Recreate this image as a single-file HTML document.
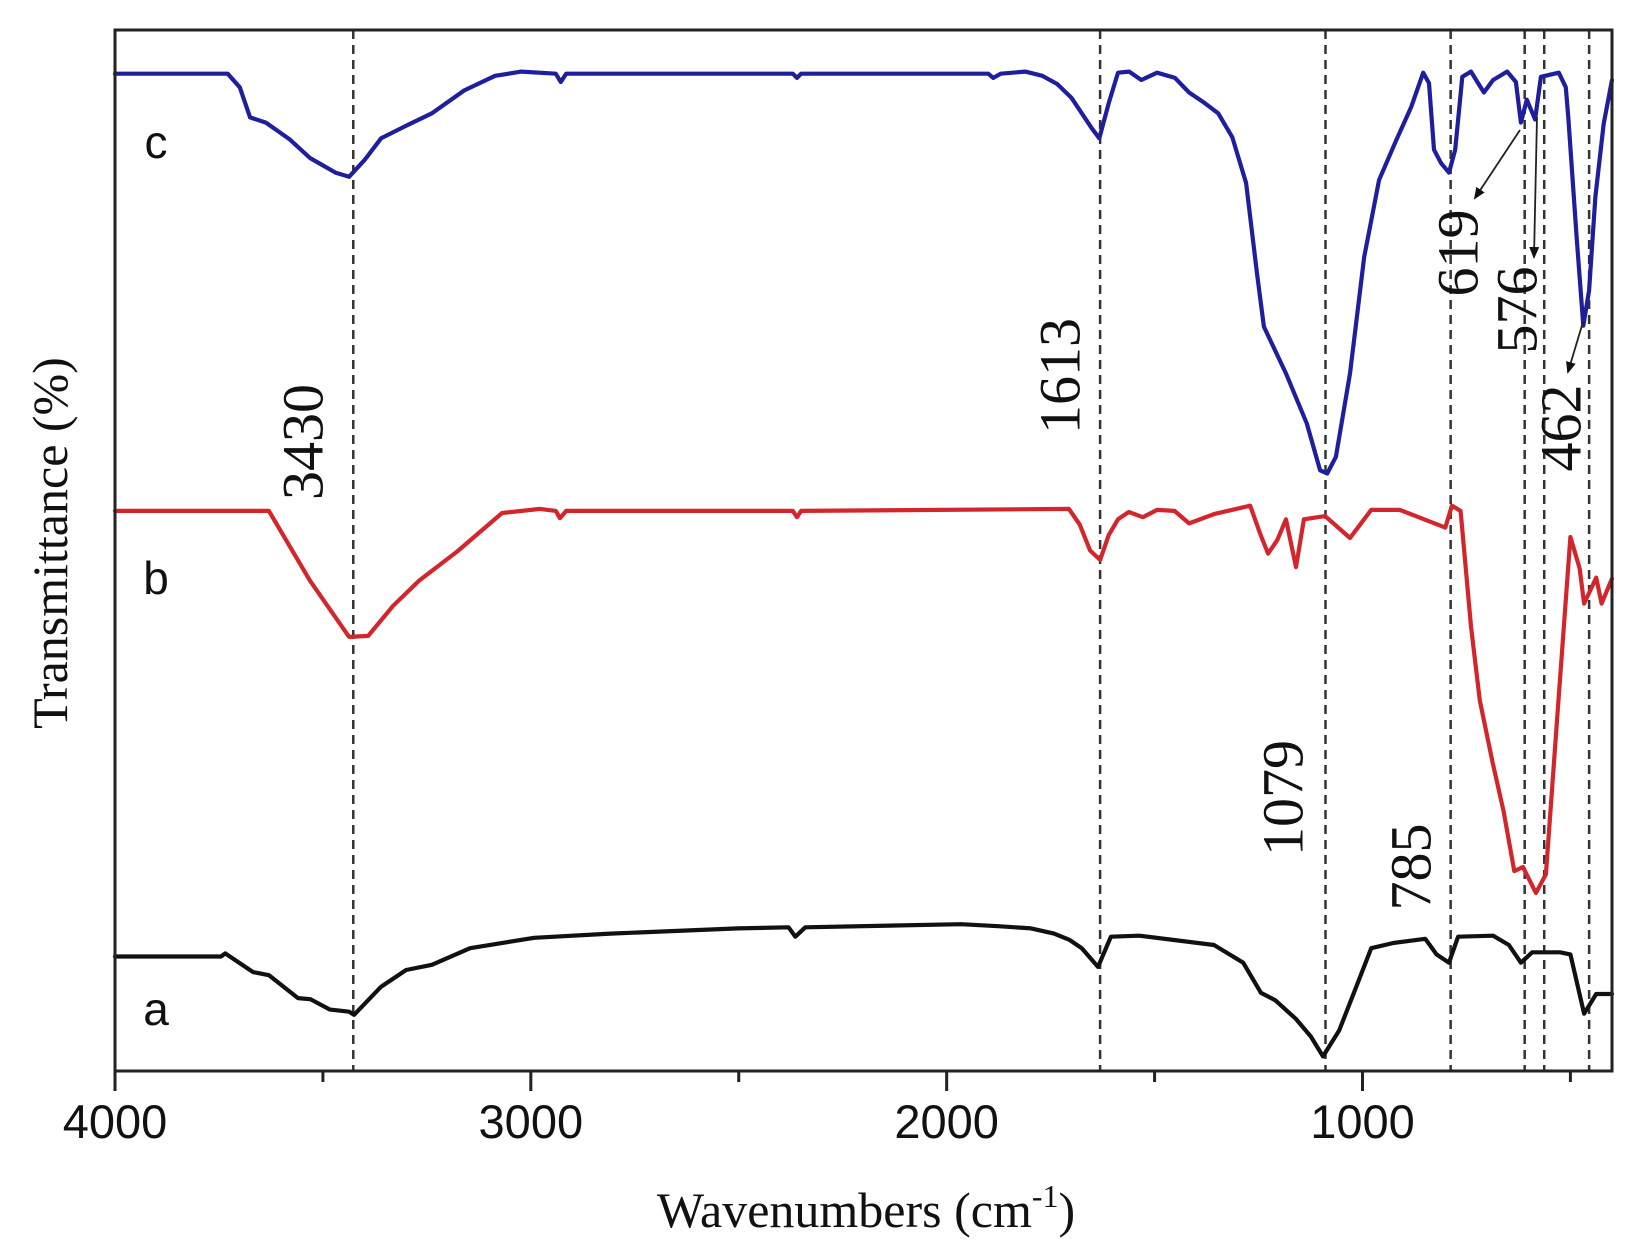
<!DOCTYPE html>
<html><head><meta charset="utf-8"><style>
html,body{margin:0;padding:0;background:#fff;}
svg{display:block;}
</style></head><body>
<svg id="chart" width="1637" height="1257" viewBox="0 0 1637 1257" xmlns="http://www.w3.org/2000/svg">
<defs>
<marker id="ah" markerWidth="12" markerHeight="10" refX="10" refY="5" orient="auto" markerUnits="userSpaceOnUse">
<path d="M0,0 L12,5 L0,10 Z" fill="#111"/>
</marker>
</defs>
<g id="plot"></g>
</svg>
<script>
// ---- data ----
const wnC = [4000,3729,3700,3675,3637,3580,3531,3470,3437,3400,3360,3300,3238,3160,3086,3023,2940,2928,2915,2370,2360,2350,1900,1888,1870,1811,1770,1734,1700,1675,1650,1633,1610,1588,1561,1532,1494,1451,1417,1380,1347,1313,1280,1254,1237,1184,1134,1102,1085,1064,1030,996,960,919,883,854,840,828,811,792,777,760,739,708,686,652,631,619,605,585,571,528,511,505,485,469,455,440,420,400];
const tC = [95.8,95.8,94.5,91.6,91.1,89.5,87.7,86.3,85.9,87.5,89.6,90.8,92.0,94.2,95.6,96.0,95.8,95.0,95.8,95.8,95.4,95.8,95.8,95.4,95.8,96.0,95.6,94.8,93.5,92.0,90.5,89.6,93.0,95.9,96.0,95.2,95.9,95.4,94.0,93.0,92.0,89.7,85.3,76.7,71.5,67.0,62.2,57.7,57.4,59.0,67.0,78.2,85.6,89.4,92.6,95.9,94.9,88.5,87.2,86.3,88.5,95.5,96.0,94.0,95.2,96.0,95.0,91.1,93.3,91.4,95.5,95.9,94.5,91.6,80,71.6,75,84,91,95.2];
const wnB = [4000,3630,3531,3437,3391,3331,3269,3177,3069,2978,2940,2930,2915,2370,2360,2350,1706,1680,1655,1631,1610,1588,1562,1528,1494,1452,1417,1357,1270,1245,1227,1205,1184,1160,1141,1090,1030,979,910,801,785,764,739,718,687,661,635,614,583,559,532,500,478,467,438,425,400];
const tB = [53.8,53.8,47.1,41.7,41.8,44.7,47.1,49.9,53.6,54.0,53.8,53.1,53.8,53.8,53.2,53.8,54.0,52.5,50.0,49.1,51.5,53.0,53.7,53.2,53.9,53.8,52.6,53.5,54.3,51.5,49.7,51.0,53.0,48.4,53.0,53.3,51.2,53.9,53.9,52.2,54.3,53.8,42.7,35.6,29.6,25.0,19.2,19.6,17.1,18.9,33.8,51.3,48.3,44.9,47.4,44.9,47.3];
const wnA = [4000,3745,3735,3668,3630,3560,3530,3483,3437,3425,3360,3300,3238,3146,2992,2809,2502,2380,2364,2340,1965,1871,1797,1742,1705,1675,1636,1605,1537,1357,1287,1244,1210,1160,1124,1095,1056,1013,979,926,849,822,792,770,686,648,619,592,525,500,467,438,400];
const tA = [11.0,11.0,11.3,9.5,9.2,7.0,6.9,5.9,5.7,5.4,8.1,9.7,10.2,11.8,12.8,13.2,13.7,13.8,12.9,13.8,14.1,13.9,13.7,13.2,12.6,11.8,10.0,12.9,13.0,12.1,10.4,7.5,6.8,5.0,3.3,1.4,3.9,8.3,11.8,12.3,12.7,11.2,10.4,12.9,13.0,12.1,10.4,11.4,11.4,11.2,5.5,7.4,7.4];
const peakLines = [3427,1631,1089,788,610,563,455];
const xTicksMajor = [4000,3000,2000,1000];
const xTicksMinor = [3500,2500,1500,500];
const peakLabels = ["3430","1613","1079","785","619","576","462"];

// ---- axes ----
const L=115,R=1612,T=30,B=1071;
const W0=4000,W1=400;
function xs(w){return L+(W0-w)*(R-L)/(W0-W1);}
function ys(v){return B-v*(B-T)/100;}

const NS="http://www.w3.org/2000/svg";
const g=document.getElementById('plot');
function mk(tag,attrs,parent){const e=document.createElementNS(NS,tag);for(const k in attrs)e.setAttribute(k,attrs[k]);(parent||g).appendChild(e);return e;}

// dashed peak lines
peakLines.forEach((w,i)=>{
  const l=mk('line',{x1:xs(w),x2:xs(w),y1:T,y2:B,stroke:'#333','stroke-width':2.5,'stroke-dasharray':'9 6'});
  
  
});

function series(wn,t,color,name){
  const pts=wn.map((w,i)=>xs(w).toFixed(1)+','+ys(t[i]).toFixed(1)).join(' ');
  const p=mk('polyline',{points:pts,fill:'none',stroke:color,'stroke-width':4.2,'stroke-linejoin':'round','stroke-linecap':'round'});
  
  
}
series(wnA,tA,'#111111','series-a');
series(wnB,tB,'#d3262c','series-b');
series(wnC,tC,'#1f1f9e','series-c');

// frame
const fr=mk('rect',{x:L,y:T,width:R-L,height:B-T,fill:'none',stroke:'#222','stroke-width':3});



// ticks
xTicksMajor.forEach(w=>{
  const t=mk('line',{x1:xs(w),x2:xs(w),y1:B,y2:B+20,stroke:'#222','stroke-width':3});
  
  
  const tx=mk('text',{x:xs(w),y:1138,'text-anchor':'middle','font-family':'Liberation Sans, sans-serif','font-size':47,fill:'#111'});
  tx.textContent=w;
  
  
});
xTicksMinor.forEach(w=>{
  if(w<W1)return;
  const t=mk('line',{x1:xs(w),x2:xs(w),y1:B,y2:B+11,stroke:'#222','stroke-width':3});
  
  
});

// rotated peak labels
const labelPos=[[303,442],[1060,376],[1283,798],[1411,867],[1458,253],[1517,310],[1561,428]];
peakLabels.forEach((s,i)=>{
  const [cx,cy]=labelPos[i];
  const tx=mk('text',{x:cx,y:cy,'text-anchor':'middle','dominant-baseline':'central','font-family':'Liberation Serif, serif','font-size':58,fill:'#111',transform:'rotate(-90 '+cx+' '+cy+')'});
  tx.textContent=s;
  
  
});

// arrows
[[1520,130,1475,198],[1537,117,1534,257],[1583,322,1568,372]].forEach((a,i)=>{
  const l=mk('line',{x1:a[0],y1:a[1],x2:a[2],y2:a[3],stroke:'#222','stroke-width':1.8,'marker-end':'url(#ah)'});
  
  
});

// series letters
[['c',142],['b',578],['a',1009]].forEach(([s,y])=>{
  const tx=mk('text',{x:156,y:y,'text-anchor':'middle','dominant-baseline':'central','font-family':'Liberation Sans, sans-serif','font-size':46,fill:'#111'});
  tx.textContent=s;
  
  
});

// axis titles
const yt=mk('text',{x:50,y:543,'text-anchor':'middle','dominant-baseline':'central','font-family':'Liberation Serif, serif','font-size':50,fill:'#111',transform:'rotate(-90 50 543)'});
yt.textContent='Transmittance (%)';


const xt=mk('text',{x:866,y:1227,'text-anchor':'middle','font-family':'Liberation Serif, serif','font-size':50,fill:'#111'});


xt.textContent='Wavenumbers (cm';
const sup=mk('tspan',{'font-size':32,dy:-20},xt);
sup.textContent='-1';
const cl=mk('tspan',{dy:20},xt);
cl.textContent=')';
</script>
</body></html>
